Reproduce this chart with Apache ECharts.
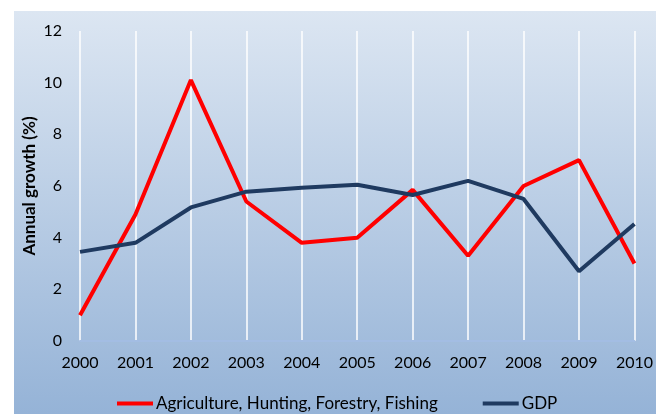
<!DOCTYPE html>
<html>
<head>
<meta charset="utf-8">
<script src="https://cdn.jsdelivr.net/npm/echarts@6/dist/echarts.min.js"></script>
<style>
html,body{margin:0;padding:0;background:#fff;}
#chart{width:656px;height:414px;}
</style>
</head>
<body>
<div id="chart"></div>
<script>
const years = ['2000','2001','2002','2003','2004','2005','2006','2007','2008','2009','2010'];
const agriculture = [1.0, 4.9, 10.1, 5.4, 3.8, 4.0, 5.85, 3.3, 6.0, 7.0, 3.0];
const gdp = [3.45, 3.8, 5.17, 5.78, 5.93, 6.05, 5.65, 6.2, 5.5, 2.7, 4.53];
const seriesNames = ['Agriculture, Hunting, Forestry, Fishing', 'GDP'];

const chart = echarts.init(document.getElementById('chart'));
const font = 'Lato, "Open Sans", sans-serif';
chart.setOption({
  animation: false,
  graphic: [{
    type: 'rect',
    z: -10,
    shape: {x: 14, y: 11, width: 642, height: 403},
    style: {
      fill: new echarts.graphic.LinearGradient(0, 0, 0, 1, [
        {offset: 0, color: '#dce6f2'},
        {offset: 1, color: '#95b3d7'}
      ])
    }
  }],
  grid: {left: 80, right: 19, top: 31, bottom: 73},
  legend: {
    bottom: -3,
    left: 112,
    itemWidth: 36,
    itemHeight: 4,
    itemGap: 45,
    icon: 'rect',
    textStyle: {fontFamily: font, fontSize: 17, color: '#000', padding: [0,0,0,-2]},
    data: seriesNames
  },
  xAxis: {
    type: 'category',
    data: years,
    boundaryGap: false,
    axisLine: {lineStyle: {color: '#a3bde3', width: 2}},
    axisTick: {show: false},
    axisLabel: {fontFamily: font, fontSize: 16, color: '#000', margin: 14},
    splitLine: {show: true, lineStyle: {color: '#ffffff', width: 1.5}}
  },
  yAxis: {
    type: 'value',
    min: 0, max: 12, interval: 2,
    name: 'Annual growth (%)',
    nameLocation: 'middle',
    nameGap: 42,
    nameMoveOverlap: false,
    nameTextStyle: {fontFamily: font, fontSize: 17, fontWeight: 'bold', color: '#000'},
    axisLine: {show: false},
    axisTick: {show: false},
    axisLabel: {fontFamily: font, fontSize: 16, color: '#000', margin: 18},
    splitLine: {show: false}
  },
  series: [
    {
      name: seriesNames[0], type: 'line', data: agriculture,
      symbol: 'none', lineStyle: {color: '#ff0000', width: 4}, itemStyle: {color: '#ff0000'}
    },
    {
      name: seriesNames[1], type: 'line', data: gdp,
      symbol: 'none', lineStyle: {color: '#1f3a60', width: 4}, itemStyle: {color: '#1f3a60'}
    }
  ]
});
</script>
</body>
</html>
